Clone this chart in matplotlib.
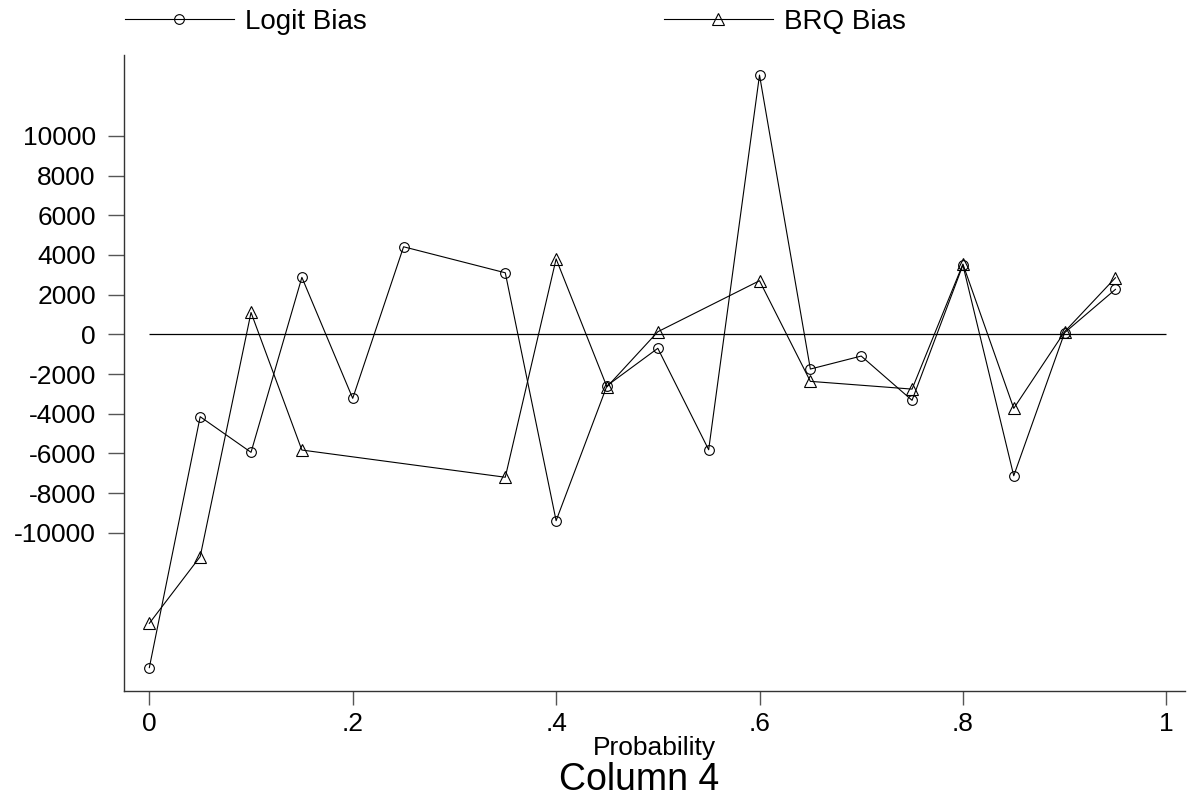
import numpy as np
import matplotlib
matplotlib.use('Agg')
import matplotlib.pyplot as plt

plt.rcParams['font.family'] = ['Liberation Sans', 'DejaVu Sans']

# Logit bias
logit_x = np.array([0, .05, .1, .15, .2, .25, .35, .4, .45, .5, .55, .6, .65, .7, .75, .8, .85, .9, .95])
logit_y = np.array([-16790, -4150, -5945, 2870, -3225, 4410, 3100, -9390, -2590, -705, -5815,
                    13060, -1750, -1095, -3325, 3490, -7125, 80, 2265])

# BRQ bias
brq_x = np.array([0, .05, .1, .15, .35, .4, .45, .5, .6, .65, .75, .8, .85, .9, .95])
brq_y = np.array([-14560, -11200, 1100, -5830, -7200, 3800, -2650, 130, 2700, -2370, -2760,
                  3540, -3730, 130, 2850])

xticks = [0, .2, .4, .6, .8, 1]
xticklabels = ['0', '.2', '.4', '.6', '.8', '1']
yticks = np.arange(-10000, 10001, 2000)

fig = plt.figure(figsize=(11.93, 8.01), dpi=100)
ax = fig.add_axes([0.1042, 0.1373, 0.8891, 0.794])

ax.hlines(0, 0, 1, color='black', lw=0.9)
l1, = ax.plot(logit_x, logit_y, color='black', lw=0.8, marker='o', ms=7,
              mfc='none', mec='black', mew=0.8, label='Logit Bias')
l2, = ax.plot(brq_x, brq_y, color='black', lw=0.8, marker='^', ms=8.5,
              mfc='none', mec='black', mew=0.8, label='BRQ Bias')

ax.set_xlim(-0.0246, 1.0184)
ax.set_ylim(-17970, 14070)
ax.set_xticks(xticks)
ax.set_xticklabels(xticklabels)
ax.set_yticks(yticks)
ax.set_yticklabels([str(v) for v in yticks])
ax.tick_params(axis='y', length=11.5, width=1, color='#555555', pad=9, labelsize=19)
ax.tick_params(axis='x', length=10, width=1, color='#555555', pad=5, labelsize=19)
for s in ['top', 'right']:
    ax.spines[s].set_visible(False)
for s in ['left', 'bottom']:
    ax.spines[s].set_color('#333333')
    ax.spines[s].set_linewidth(1)

ax.set_xlabel('Probability', fontsize=19, labelpad=0)
fig.text(639 / 1193, 1 - 790 / 801, 'Column 4', fontsize=27, ha='center', va='baseline')

fig.legend(handles=[l1, l2], loc='center left', bbox_to_anchor=(125 / 1193, 1 - 22 / 801),
           ncol=2, frameon=False, fontsize=20, handlelength=3.92, handletextpad=0.4,
           columnspacing=10.7, borderpad=0, borderaxespad=0)

fig.savefig('out.png', dpi=100)
